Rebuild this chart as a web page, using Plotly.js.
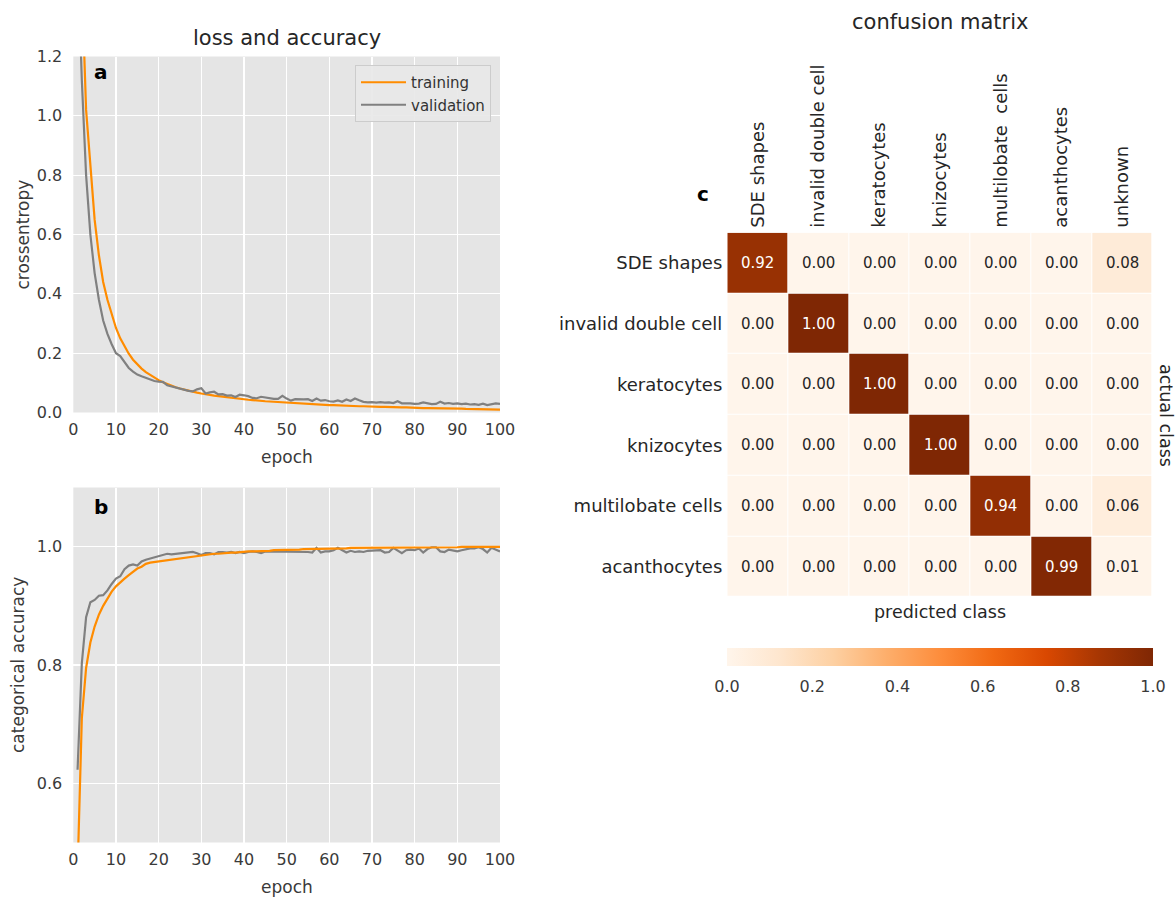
<!DOCTYPE html>
<html>
<head>
<meta charset="utf-8">
<script src="https://cdn.plot.ly/plotly-3.0.1.min.js"></script>
<style>html,body{margin:0;padding:0;background:#fff;}#chart{width:1175px;height:898px;}</style>
</head>
<body>
<div id="chart"></div>
<script>
// ---------- data ----------
const epochs = Array.from({length: 100}, (_, i) => i + 1);

const trainLoss = [
  2.10, 1.45, 1.02, 0.82, 0.65, 0.53, 0.44, 0.38, 0.33, 0.285,
  0.25, 0.222, 0.198, 0.178, 0.162, 0.148, 0.136, 0.126, 0.117, 0.109,
  0.102, 0.096, 0.090, 0.085, 0.081, 0.077, 0.073, 0.070, 0.067, 0.064,
  0.061, 0.059, 0.057, 0.055, 0.053, 0.051, 0.049, 0.047, 0.046, 0.044,
  0.043, 0.042, 0.040, 0.039, 0.038, 0.037, 0.036, 0.035, 0.034, 0.033,
  0.032, 0.031, 0.030, 0.030, 0.029, 0.028, 0.027, 0.027, 0.026, 0.025,
  0.025, 0.024, 0.024, 0.023, 0.023, 0.022, 0.021, 0.021, 0.020, 0.020,
  0.019, 0.019, 0.019, 0.018, 0.018, 0.017, 0.017, 0.017, 0.016, 0.016,
  0.016, 0.015, 0.015, 0.015, 0.014, 0.014, 0.014, 0.013, 0.013, 0.013,
  0.013, 0.012, 0.012, 0.012, 0.012, 0.011, 0.011, 0.011, 0.011, 0.010
];

const valLoss = [
  1.55, 1.12, 0.80, 0.60, 0.47, 0.38, 0.31, 0.265, 0.23, 0.20,
  0.19, 0.168, 0.150, 0.138, 0.128, 0.122, 0.116, 0.110, 0.106, 0.104,
  0.103, 0.092, 0.088, 0.083, 0.079, 0.076, 0.073, 0.071, 0.078, 0.082,
  0.064, 0.068, 0.070, 0.061, 0.062, 0.057, 0.058, 0.052, 0.060, 0.058,
  0.055, 0.049, 0.048, 0.053, 0.050, 0.048, 0.046, 0.046, 0.056, 0.047,
  0.040, 0.045, 0.044, 0.044, 0.045, 0.039, 0.047, 0.040, 0.042, 0.038,
  0.037, 0.041, 0.036, 0.044, 0.039, 0.047, 0.041, 0.036, 0.034, 0.035,
  0.033, 0.035, 0.033, 0.034, 0.032, 0.038, 0.031, 0.032, 0.031, 0.029,
  0.030, 0.034, 0.031, 0.028, 0.029, 0.036, 0.030, 0.032, 0.029, 0.031,
  0.028, 0.030, 0.027, 0.028, 0.026, 0.030, 0.025, 0.027, 0.031, 0.029
];

const trainAcc = [
  0.45, 0.71, 0.795, 0.838, 0.865, 0.885, 0.900, 0.913, 0.924, 0.933,
  0.940, 0.946, 0.952, 0.958, 0.963, 0.966, 0.971, 0.973, 0.974, 0.975,
  0.977, 0.978, 0.979, 0.980, 0.981, 0.982, 0.983, 0.984, 0.985, 0.986,
  0.987, 0.987, 0.988, 0.988, 0.989, 0.989, 0.990, 0.990, 0.991, 0.991,
  0.992, 0.992, 0.992, 0.993, 0.993, 0.993, 0.994, 0.994, 0.994, 0.995,
  0.995, 0.995, 0.995, 0.996, 0.996, 0.996, 0.996, 0.996, 0.997, 0.997,
  0.997, 0.997, 0.997, 0.997, 0.998, 0.998, 0.998, 0.998, 0.998, 0.998,
  0.998, 0.998, 0.998, 0.998, 0.999, 0.999, 0.999, 0.999, 0.999, 0.999,
  0.999, 0.999, 0.999, 0.999, 0.999, 0.999, 0.999, 0.999, 0.999, 0.999,
  0.9995, 0.9995, 0.9995, 0.9995, 0.9995, 0.9995, 0.9995, 0.9995, 0.9995, 0.9995
];

const valAcc = [
  0.623, 0.803, 0.881, 0.906, 0.910, 0.917, 0.918, 0.926, 0.937, 0.946,
  0.950, 0.962, 0.968, 0.970, 0.968, 0.975, 0.978, 0.980, 0.981, 0.983,
  0.985, 0.988, 0.987, 0.988, 0.989, 0.990, 0.990, 0.991, 0.989, 0.986,
  0.989, 0.989, 0.987, 0.991, 0.991, 0.990, 0.991, 0.989, 0.991, 0.989,
  0.991, 0.992, 0.991, 0.989, 0.992, 0.992, 0.991, 0.992, 0.991, 0.992,
  0.992, 0.991, 0.992, 0.992, 0.991, 0.990, 0.998, 0.990, 0.992, 0.992,
  0.994, 0.998, 0.994, 0.990, 0.993, 0.991, 0.992, 0.991, 0.993, 0.993,
  0.993, 0.994, 0.990, 0.991, 0.998, 0.994, 0.989, 0.994, 0.995, 0.994,
  0.997, 0.990, 0.996, 0.999, 0.999, 0.992, 0.991, 0.995, 0.993, 0.992,
  0.994, 0.996, 0.997, 0.997, 0.999, 0.996, 0.990, 0.998, 0.995, 0.992
];

const predictedClasses = ["SDE shapes", "invalid double cell", "keratocytes", "knizocytes", "multilobate  cells", "acanthocytes", "unknown"];
const actualClasses = ["SDE shapes", "invalid double cell", "keratocytes", "knizocytes", "multilobate cells", "acanthocytes"];
const confusion = [
  [0.92, 0.00, 0.00, 0.00, 0.00, 0.00, 0.08],
  [0.00, 1.00, 0.00, 0.00, 0.00, 0.00, 0.00],
  [0.00, 0.00, 1.00, 0.00, 0.00, 0.00, 0.00],
  [0.00, 0.00, 0.00, 1.00, 0.00, 0.00, 0.00],
  [0.00, 0.00, 0.00, 0.00, 0.94, 0.00, 0.06],
  [0.00, 0.00, 0.00, 0.00, 0.00, 0.99, 0.01]
];
const colorbarTicks = [0, 0.2, 0.4, 0.6, 0.8, 1.0];

// ---------- styling ----------
const FONT = "DejaVu Sans";
const W = 1175, H = 898;
const px = v => v / W;
const py = v => 1 - v / H;
const orange = "#ff8c00", grey = "#808080";
const tickFont = {family: FONT, size: 16, color: "#3a3a3a"};
const labelFont = {family: FONT, size: 17, color: "#3a3a3a"};

const oranges = [
  [0.0, "#fff5eb"], [0.125, "#fee6ce"], [0.25, "#fdd0a2"], [0.375, "#fdae6b"],
  [0.5, "#fd8d3c"], [0.625, "#f16913"], [0.75, "#d94801"], [0.875, "#a63603"], [1.0, "#7f2704"]
];

const traces = [
  {x: epochs, y: trainLoss, type: "scatter", mode: "lines", name: "training",
   line: {color: orange, width: 2.2}, xaxis: "x", yaxis: "y"},
  {x: epochs, y: valLoss, type: "scatter", mode: "lines", name: "validation",
   line: {color: grey, width: 2.2}, xaxis: "x", yaxis: "y"},
  {x: epochs, y: valAcc, type: "scatter", mode: "lines", name: "validation",
   line: {color: grey, width: 2.2}, xaxis: "x2", yaxis: "y2", showlegend: false},
  {x: epochs, y: trainAcc, type: "scatter", mode: "lines", name: "training",
   line: {color: orange, width: 2.2}, xaxis: "x2", yaxis: "y2", showlegend: false},
  {z: confusion, x: predictedClasses, y: actualClasses, type: "heatmap",
   xaxis: "x3", yaxis: "y3", colorscale: oranges, zmin: 0, zmax: 1,
   xgap: 1, ygap: 1, hoverinfo: "skip",
   colorbar: {orientation: "h", x: 0.8, xanchor: "center", y: py(648), yanchor: "top",
     len: 426 / W, lenmode: "fraction", thickness: 18, outlinewidth: 0,
     xpad: 0, ypad: 0, tickvals: colorbarTicks, tickformat: ".1f",
     ticks: "outside", ticklen: 7, tickcolor: "rgba(255,255,255,0)",
     tickfont: {family: FONT, size: 16, color: "#3a3a3a"}}}
];

const xDom = [px(73.3), px(500)];
const lineAxisX = {
  range: [0, 100], dtick: 10, tick0: 0, showgrid: true, gridcolor: "#ffffff", gridwidth: 1.3,
  zeroline: false, showline: false, ticks: "", tickfont: tickFont, ticklabelstandoff: 5
};
const ann = (text, x, y, font, extra) => Object.assign({text: text, x: px(x), y: py(y), xref: "paper", yref: "paper",
  showarrow: false, font: font, xanchor: "center", yanchor: "middle"}, extra || {});
const titleFont = {family: FONT, size: 21, color: "#262626"};
const letterFont = {family: FONT, size: 20, color: "#000"};
const heatLabelFont = {family: FONT, size: 17.5, color: "#262626"};
const annotations = [
  ann("loss and accuracy", 287, 38, titleFont),
  ann("confusion matrix", 940, 22, titleFont),
  ann("crossentropy", 22, 234.5, labelFont, {textangle: -90}),
  ann("categorical accuracy", 18, 665, labelFont, {textangle: -90}),
  ann("epoch", 287, 457, labelFont),
  ann("epoch", 287, 887, labelFont),
  ann("predicted class", 940, 612, heatLabelFont),
  ann("actual class", 1166, 415, heatLabelFont, {textangle: 90}),
  ann("<b>a</b>", 101, 72, letterFont),
  ann("<b>b</b>", 101, 507, letterFont),
  ann("<b>c</b>", 703, 194, letterFont)
];
// cell values
confusion.forEach((row, i) => row.forEach((v, j) => {
  annotations.push({text: v.toFixed(2), x: predictedClasses[j], y: actualClasses[i], xref: "x3", yref: "y3",
    showarrow: false, font: {family: FONT, size: 15, color: v > 0.5 ? "#ffffff" : "#262626"}});
}));

const layout = {
  width: W, height: H, margin: {l: 0, r: 0, t: 0, b: 0},
  paper_bgcolor: "#ffffff", plot_bgcolor: "#ffffff",
  font: {family: FONT, color: "#333"},
  showlegend: true,
  legend: {x: px(491), xanchor: "right", y: py(65), yanchor: "top",
    bgcolor: "rgba(232,232,232,0.9)", bordercolor: "#cccccc", borderwidth: 1,
    font: {family: FONT, size: 15, color: "#333"}, itemwidth: 45, tracegroupgap: 0},
  xaxis: Object.assign({}, lineAxisX, {domain: xDom, anchor: "y"}),
  yaxis: {domain: [py(412.5), py(56.5)], range: [0, 1.2], dtick: 0.2, tick0: 0, tickformat: ".1f",
    showgrid: true, gridcolor: "#ffffff", gridwidth: 1.3, zeroline: false, showline: false,
    ticks: "", tickfont: tickFont, anchor: "x", ticklabelstandoff: 10},
  xaxis2: Object.assign({}, lineAxisX, {domain: xDom, anchor: "y2"}),
  yaxis2: {domain: [py(842.5), py(487.5)], range: [0.5, 1.1], tickvals: [0.6, 0.8, 1.0], tickformat: ".1f",
    showgrid: true, gridcolor: "#ffffff", gridwidth: 1.3, zeroline: false, showline: false,
    ticks: "", tickfont: tickFont, anchor: "x2", ticklabelstandoff: 10},
  xaxis3: {domain: [px(727.3), px(1152.7)], anchor: "y3", side: "top", tickangle: -90,
    showgrid: false, zeroline: false, showline: false, ticks: "", ticklabelstandoff: 4,
    tickfont: {family: FONT, size: 18, color: "#262626"}},
  yaxis3: {domain: [py(597), py(232.7)], anchor: "x3", autorange: "reversed",
    showgrid: false, zeroline: false, showline: false, ticks: "", ticklabelstandoff: 4,
    tickfont: {family: FONT, size: 18, color: "#262626"}},
  shapes: [
    {type: "rect", xref: "x domain", yref: "y domain", x0: 0, x1: 1, y0: 0, y1: 1,
     fillcolor: "#e5e5e5", line: {width: 0}, layer: "below"},
    {type: "rect", xref: "x2 domain", yref: "y2 domain", x0: 0, x1: 1, y0: 0, y1: 1,
     fillcolor: "#e5e5e5", line: {width: 0}, layer: "below"}
  ],
  annotations: annotations
};

Plotly.newPlot("chart", traces, layout, {displayModeBar: false, staticPlot: true});
</script>
</body>
</html>
